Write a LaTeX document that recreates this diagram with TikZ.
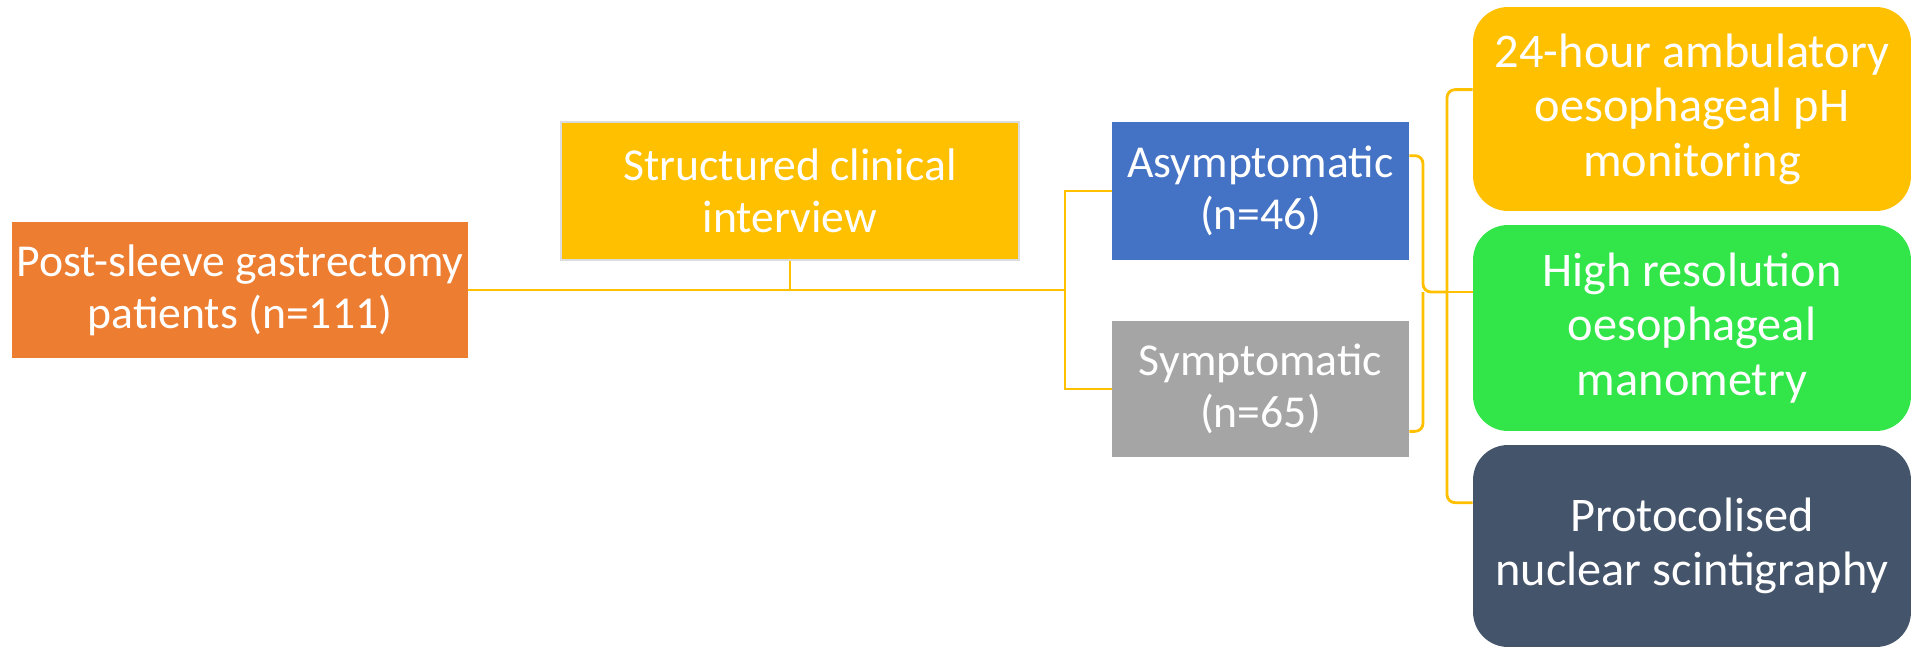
\documentclass[tikz,border=0pt]{standalone}
\usepackage{fontspec}
\setmainfont{Carlito}
\usepackage{xcolor}
\usetikzlibrary{calc}
\definecolor{cohortorange}{HTML}{ED7D31}
\definecolor{amberfill}{HTML}{FFC000}
\definecolor{asymblue}{HTML}{4472C4}
\definecolor{sympgrey}{HTML}{A5A5A5}
\definecolor{hrmgreen}{HTML}{32E64A}
\definecolor{slatedark}{HTML}{44546A}
\definecolor{edgegrey}{HTML}{DCDCDC}
\tikzset{
  box/.style    ={rectangle, align=center, inner sep=2pt, text=white,
                  font=\fontsize{26}{29.5}\selectfont},
  testbox/.style={box, rounded corners=0.7cm, minimum width=8.76cm,
                  font=\fontsize{27.5}{31}\selectfont},
  brace/.style  ={draw=amberfill, line width=1.6pt},
  bracket/.style={brace, rounded corners=0.16cm},
}

\begin{document}
\begin{tikzpicture}[x=0.02cm, y=-0.02cm]
\useasboundingbox (0,0) rectangle (1921,649);

% ---------------- cohort and interview ----------------
\node[box, fill=cohortorange, minimum width=9.12cm, minimum height=2.72cm]
      (cohort) at (240,290) {Post-sleeve gastrectomy\\patients (n=111)};
\node[box, fill=amberfill, draw=edgegrey, line width=1pt,
      minimum width=9.16cm, minimum height=2.76cm]
      (interview) at (790,191) {Structured clinical\\interview};

% ---------------- groups ----------------
\node[box, fill=asymblue, minimum width=5.94cm, minimum height=2.76cm]
      (asym) at (1260.5,191) {Asymptomatic\\(n=46)};
\node[box, fill=sympgrey, minimum width=5.94cm, minimum height=2.72cm]
      (symp) at (1260.5,389) {Symptomatic\\(n=65)};

% ---------------- investigations ----------------
\node[testbox, fill=amberfill, minimum height=4.08cm]
      (phmon) at (1692,109) {24-hour ambulatory\\oesophageal pH\\monitoring};
\node[testbox, fill=hrmgreen, minimum height=4.12cm]
      (hrm) at (1692,328) {High resolution\\oesophageal\\manometry};
\node[testbox, fill=slatedark, minimum height=4.04cm]
      (scint) at (1692,546) {Protocolised\\nuclear scintigraphy};

% ---------------- connectors ----------------
\coordinate (split) at (1065,290);
\coordinate (gjoin) at (1423,292);
\coordinate (tjoin) at (1447,292);

\draw[brace] (cohort.east) -- (split);
\draw[brace] (interview.south) -- (interview.south |- split);
\draw[brace] (asym.west) -| (split) |- (symp.west);

\draw[bracket] ([yshift=-0.68cm]asym.north east) -| (gjoin) -- (tjoin);
\draw[bracket] ([yshift=0.52cm]symp.south east) -| (gjoin);
\draw[brace] (tjoin) -- (tjoin -| hrm.west);
\draw[bracket] ([yshift=-1.66cm]phmon.north west) -| (tjoin)
      |- ([yshift=-1.16cm]scint.north west);

\end{tikzpicture}
\end{document}
